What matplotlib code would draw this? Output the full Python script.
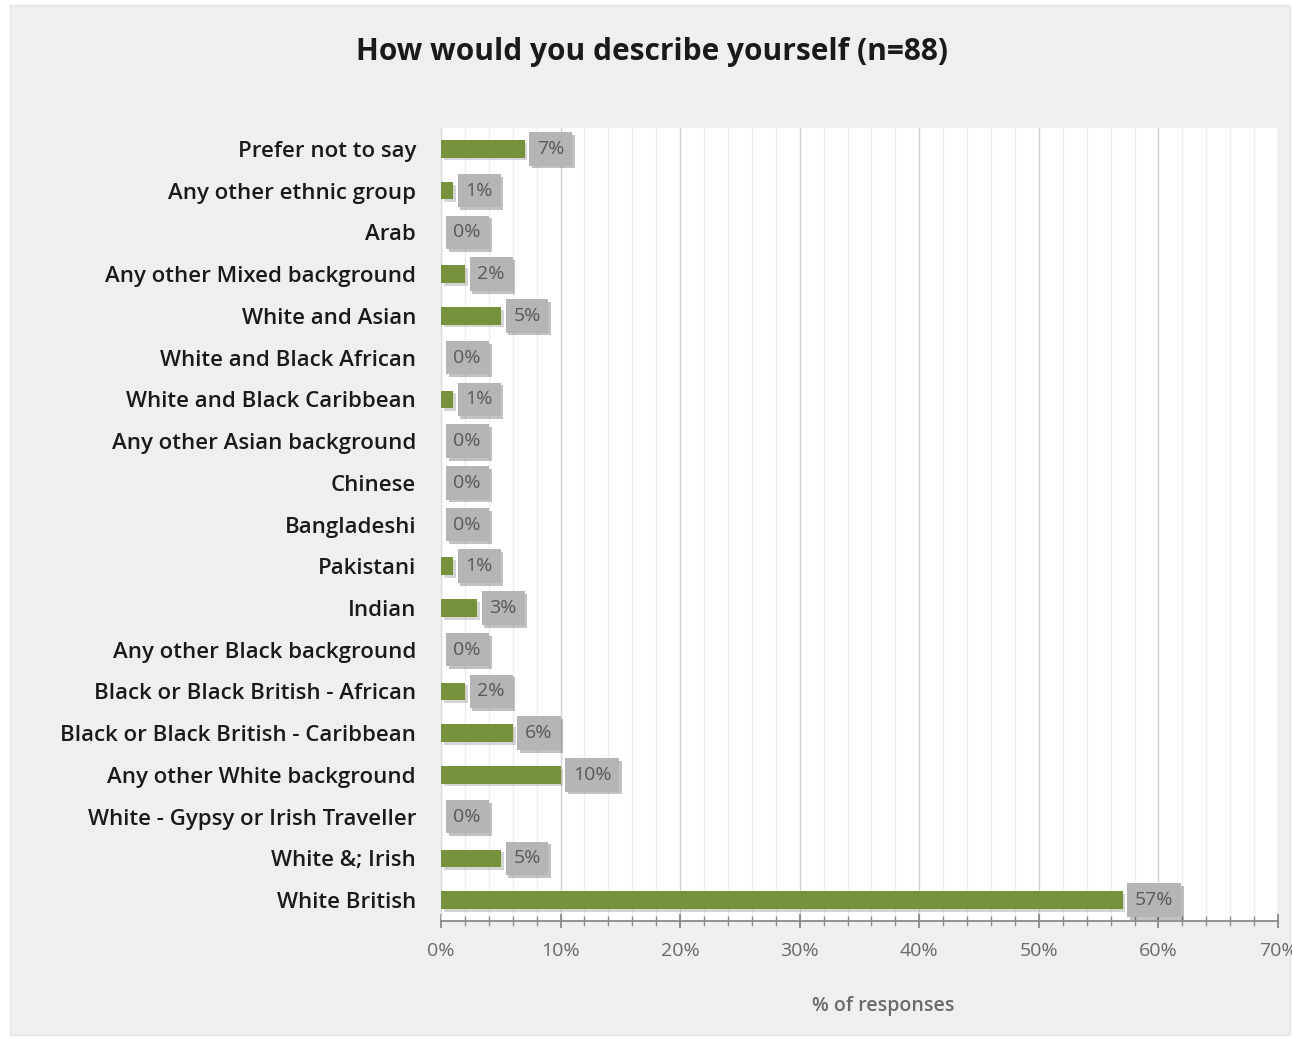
import matplotlib
matplotlib.use("Agg")
import matplotlib.pyplot as plt
import matplotlib.patheffects as pe
from matplotlib.patches import Rectangle
from matplotlib.ticker import MultipleLocator, FuncFormatter

categories = [
    "Prefer not to say", "Any other ethnic group", "Arab", "Any other Mixed background",
    "White and Asian", "White and Black African", "White and Black Caribbean",
    "Any other Asian background", "Chinese", "Bangladeshi", "Pakistani", "Indian",
    "Any other Black background", "Black or Black British - African",
    "Black or Black British - Caribbean", "Any other White background",
    "White - Gypsy or Irish Traveller", "White &; Irish", "White British",
]
values = [7, 1, 0, 2, 5, 0, 1, 0, 0, 0, 1, 3, 0, 2, 6, 10, 0, 5, 57]
xticks = [0, 10, 20, 30, 40, 50, 60, 70]

plt.rcParams['font.family'] = ['Open Sans', 'DejaVu Sans']

W, H = 1292, 1039
fig = plt.figure(figsize=(W / 100, H / 100), dpi=100, facecolor="white")
bg = Rectangle((10 / W, 4 / H), 1280 / W, 1030 / H, transform=fig.transFigure,
               facecolor="#efefef", edgecolor="#e6e6e6", lw=1, zorder=-10)
fig.add_artist(bg)

ax = fig.add_axes([441 / W, 118 / H, 837 / W, 793 / H])
ax.set_zorder(5)
ax.set_facecolor("white")

n = len(categories)
ypos = list(range(n))
bars = ax.barh(ypos, values, height=0.42, color="#76923c", zorder=3)
for b in bars:
    b.set_path_effects([pe.SimplePatchShadow(offset=(2, -2), alpha=0.35, shadow_rgbFace="#888888"), pe.Normal()])

for y, v in zip(ypos, values):
    t = ax.annotate(f"{v}%", (v, y), xytext=(9, 0), textcoords="offset points",
                    ha="left", va="center", fontsize=14, color="#595959", zorder=5,
                    bbox=dict(boxstyle="square,pad=0.4", facecolor="#b5b5b5", edgecolor="none"))
    t.get_bbox_patch().set_path_effects([pe.SimplePatchShadow(offset=(2, -2), alpha=0.3), pe.Normal()])

ax.set_ylim(n - 0.5, -0.5)
ax.set_yticks(ypos)
ax.set_yticklabels(categories, fontsize=16, fontweight="semibold", color="#1a1a1a")
ax.tick_params(axis="y", length=0, pad=18)

ax.set_xlim(0, 70)
ax.set_xticks(xticks)
ax.xaxis.set_major_formatter(FuncFormatter(lambda x, p: f"{int(x)}%"))
ax.xaxis.set_minor_locator(MultipleLocator(2))
ax.tick_params(axis="x", which="major", direction="inout", length=10, width=1.2, color="#7f7f7f",
               labelsize=14, labelcolor="#6a6a6a", pad=10)
ax.tick_params(axis="x", which="minor", direction="inout", length=7, width=1, color="#8f8f8f")
ax.grid(axis="x", which="major", color="#d0d0d0", lw=1, zorder=0)
ax.grid(axis="x", which="minor", color="#ececec", lw=1, zorder=0)
ax.set_axisbelow(True)

for s in ["top", "right"]:
    ax.spines[s].set_visible(False)
ax.spines["left"].set_color("#dddddd")
ax.spines["bottom"].set_color("#8a8a8a")
ax.spines["bottom"].set_linewidth(1.3)

ax.set_xlabel("% of responses", fontsize=14, fontweight="semibold", color="#6a6a6a")
ax.xaxis.set_label_coords(0.528, -0.094)

fig.text(652 / W, 1 - 52 / H, "How would you describe yourself (n=88)", ha="center", va="center",
         fontsize=21.5, fontweight="bold", color="#1a1a1a")

fig.savefig("out.png", dpi=100, facecolor=fig.get_facecolor())
